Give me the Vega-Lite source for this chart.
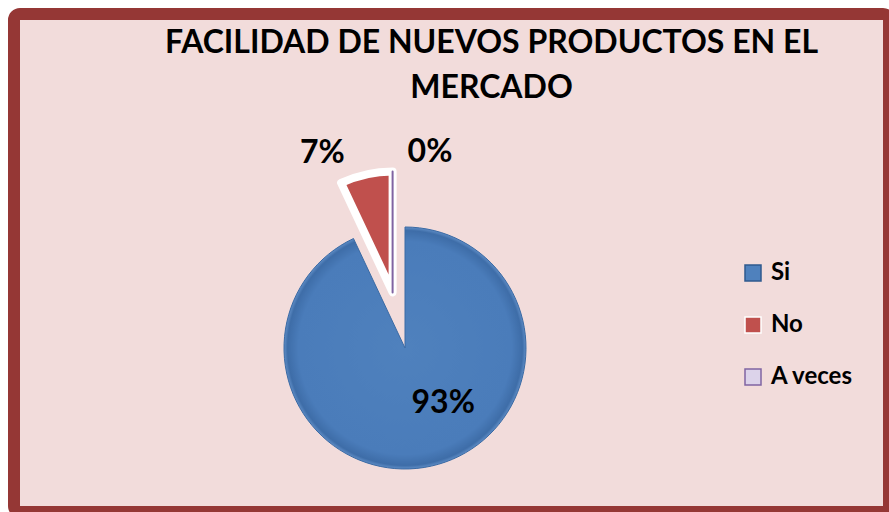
{
  "$schema": "https://vega.github.io/schema/vega-lite/v6.json",
  "width": 875,
  "height": 498,
  "autosize": {"type": "none"},
  "padding": {"left": 14, "top": 14, "right": 0, "bottom": 0},
  "background": "#FFFFFF",
  "view": {"fill": "#F2DCDB", "stroke": "#953735", "strokeWidth": 12, "cornerRadius": 6},
  "title": {
    "text": ["FACILIDAD DE NUEVOS PRODUCTOS EN EL", "MERCADO"],
    "anchor": "middle",
    "frame": "group",
    "font": "Lato",
    "fontSize": 32,
    "fontWeight": "bold",
    "color": "#000000",
    "lineHeight": 45,
    "baseline": "top",
    "offset": 0,
    "dx": 40,
    "dy": 91
  },
  "data": {
    "values": [
      {"cat": "Si", "valor": 93, "etiqueta": "93%", "orden": 1},
      {"cat": "No", "valor": 7, "etiqueta": "7%", "orden": 2},
      {"cat": "A veces", "valor": 0, "etiqueta": "0%", "orden": 3}
    ]
  },
  "encoding": {
    "theta": {"field": "valor", "type": "quantitative", "stack": true},
    "order": {"field": "orden", "type": "quantitative"}
  },
  "layer": [
    {
      "mark": {
        "type": "arc",
        "outerRadius": 121,
        "xOffset": -46.5,
        "yOffset": 85,
        "stroke": "#3A6AA4",
        "strokeWidth": 1,
        "fill": {
          "gradient": "radial",
          "x1": 0.5, "y1": 0.5, "r1": 0,
          "x2": 0.5, "y2": 0.5, "r2": 0.5,
          "stops": [
            {"offset": 0, "color": "#4F81BD"},
            {"offset": 0.88, "color": "#4A7CBA"},
            {"offset": 0.97, "color": "#3E6DA8"},
            {"offset": 1, "color": "#5F8DC6"}
          ]
        }
      },
      "encoding": {
        "opacity": {"condition": {"test": "datum.cat === 'Si'", "value": 1}, "value": 0}
      }
    },
    {
      "mark": {
        "type": "arc",
        "outerRadius": 121,
        "xOffset": -58.9,
        "yOffset": 29.4,
        "strokeJoin": "round"
      },
      "encoding": {
        "color": {
          "field": "cat",
          "type": "nominal",
          "sort": ["Si", "No", "A veces"],
          "scale": {"domain": ["Si", "No", "A veces"], "range": ["#4F81BD", "#C0504D", "#DCD3EA"]},
          "legend": {
            "title": null,
            "orient": "none",
            "legendX": 727,
            "legendY": 247,
            "padding": 0,
            "symbolType": "square",
            "symbolSize": 256,
            "symbolStrokeWidth": 1.5,
            "symbolOpacity": 1,
            "labelFont": "Lato",
            "labelFontSize": 24,
            "labelFontWeight": "bold",
            "labelColor": "#000000",
            "labelOffset": 6,
            "rowPadding": 28
          }
        },
        "stroke": {
          "field": "cat",
          "type": "nominal",
          "sort": ["Si", "No", "A veces"],
          "scale": {"domain": ["Si", "No", "A veces"], "range": ["#2F5A8E", "#FFFFFF", "#8064A2"]},
          "legend": {
            "title": null,
            "orient": "none",
            "legendX": 727,
            "legendY": 247,
            "padding": 0,
            "symbolType": "square",
            "symbolSize": 256,
            "symbolStrokeWidth": 1.5,
            "symbolOpacity": 1,
            "labelFont": "Lato",
            "labelFontSize": 24,
            "labelFontWeight": "bold",
            "labelColor": "#000000",
            "labelOffset": 6,
            "rowPadding": 28
          }
        },
        "strokeWidth": {"condition": {"test": "datum.cat === 'No'", "value": 8}, "value": 2},
        "opacity": {"condition": {"test": "datum.cat === 'Si'", "value": 0}, "value": 1}
      }
    },
    {
      "mark": {"type": "text", "font": "Lato", "fontSize": 32, "fontWeight": "bold", "color": "#000000", "radius": 65, "xOffset": -46.5, "yOffset": 85, "dx": 24, "dy": -8},
      "encoding": {
        "text": {"condition": {"test": "datum.cat === 'Si'", "field": "etiqueta"}, "value": ""}
      }
    },
    {
      "mark": {"type": "text", "font": "Lato", "fontSize": 32, "fontWeight": "bold", "color": "#000000", "radius": 200, "xOffset": -46.5, "yOffset": 85, "dx": -39, "dy": 0},
      "encoding": {
        "text": {"condition": {"test": "datum.cat === 'No'", "field": "etiqueta"}, "value": ""}
      }
    },
    {
      "mark": {"type": "text", "font": "Lato", "fontSize": 32, "fontWeight": "bold", "color": "#000000", "radius": 196, "xOffset": -46.5, "yOffset": 85, "dx": 25, "dy": 0},
      "encoding": {
        "text": {"condition": {"test": "datum.cat === 'A veces'", "field": "etiqueta"}, "value": ""}
      }
    }
  ]
}
